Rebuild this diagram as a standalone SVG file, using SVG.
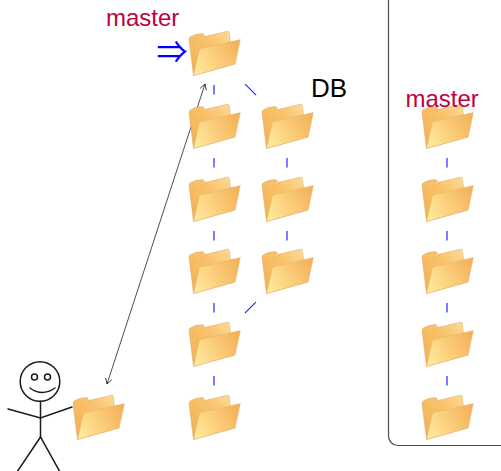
<svg xmlns="http://www.w3.org/2000/svg" xmlns:xlink="http://www.w3.org/1999/xlink" width="501" height="471" viewBox="0 0 501 471">
  <style>
    .branch { font-family: "Liberation Sans", Arial, sans-serif; font-size: 24px; fill: #bf0040; }
    .label { font-family: "Liberation Sans", Arial, sans-serif; font-size: 26px; fill: #000; }
    .head { font-family: "Noto Sans CJK JP", "DejaVu Sans", sans-serif; font-size: 31px; fill: #0000ff; }
    .link { stroke: #1a2cff; stroke-width: 1.2; fill: none; }
    .v { stroke-dasharray: 0 32 9.5 100; }
    .d { stroke-dasharray: 0 44 15.5 100; }
    .figure { stroke: #1a1a1a; stroke-width: 1.5; fill: none; stroke-linecap: round; }
  </style>
  <defs>
    <linearGradient id="backFill" x1="0" y1="1" x2="1" y2="0">
      <stop offset="0" stop-color="#f3ae4f"/>
      <stop offset="0.6" stop-color="#f8c26c"/>
      <stop offset="1" stop-color="#fde0a0"/>
    </linearGradient>
    <linearGradient id="frontFill" x1="0" y1="0.7" x2="1" y2="0.3">
      <stop offset="0" stop-color="#fee89c"/>
      <stop offset="0.45" stop-color="#fbcf7c"/>
      <stop offset="1" stop-color="#f5b25a"/>
    </linearGradient>
    <symbol id="folder" viewBox="0 0 53 45" overflow="visible">
      <path d="M1,8.5 Q1,6.3 3,5.6 L7.5,3.5 L14.2,2.6 Q15.6,2.5 16,3.9 L16.6,5.6 L39.2,0.3 Q41.2,0 41.4,2 L42.5,12 L47,33 L5.5,44.5 Z" fill="url(#backFill)" stroke="#d9a766" stroke-width="0.5"/>
      <path d="M11.5,18 L52.3,8.6 L47.2,32.8 L5.5,44.6 Z" fill="url(#frontFill)" stroke="#e2b46e" stroke-width="0.5"/>
    </symbol>
    <marker id="tip" viewBox="-6 -4 7 8" markerWidth="7" markerHeight="8" refX="0" refY="0" orient="auto-start-reverse" markerUnits="userSpaceOnUse">
      <path d="M-5.5,-3.2 L0,0 L-5.5,3.2" fill="none" stroke="#222" stroke-width="0.8"/>
    </marker>
  </defs>

  <!-- remote repository frame -->
  <rect id="remote" x="388.5" y="-20" width="140" height="465.5" rx="9.5" fill="none" stroke="#4d4d4d" stroke-width="1.2"/>

  <!-- connectors -->
  <g id="connectors">
    <line class="link v" x1="214" y1="53" x2="214" y2="126"/>
    <line class="link v" x1="214" y1="126" x2="214" y2="199"/>
    <line class="link v" x1="214" y1="199" x2="214" y2="271"/>
    <line class="link v" x1="214" y1="271" x2="214" y2="344"/>
    <line class="link v" x1="214" y1="344" x2="214" y2="417"/>
    <line class="link d" x1="214" y1="53" x2="287" y2="126"/>
    <line class="link v" x1="287" y1="126" x2="287" y2="199"/>
    <line class="link v" x1="287" y1="199" x2="287" y2="271"/>
    <line class="link d" x1="287" y1="271" x2="214" y2="344"/>
    <line class="link v" x1="447" y1="126" x2="447" y2="199"/>
    <line class="link v" x1="447" y1="199" x2="447" y2="271"/>
    <line class="link v" x1="447" y1="271" x2="447" y2="344"/>
    <line class="link v" x1="447" y1="344" x2="447" y2="417"/>
    <line id="sync" x1="107" y1="384" x2="205" y2="84" stroke="#222" stroke-width="0.8" marker-start="url(#tip)" marker-end="url(#tip)"/>
  </g>

  <!-- local history, main line -->
  <g id="c1"><use xlink:href="#folder" x="188" y="31" width="53" height="45"/></g>
  <g id="c2"><use xlink:href="#folder" x="188" y="104" width="53" height="45"/></g>
  <g id="c3"><use xlink:href="#folder" x="188" y="177" width="53" height="45"/></g>
  <g id="c4"><use xlink:href="#folder" x="188" y="249" width="53" height="45"/></g>
  <g id="c5"><use xlink:href="#folder" x="188" y="322" width="53" height="45"/></g>
  <g id="c6"><use xlink:href="#folder" x="188" y="395" width="53" height="45"/></g>

  <!-- DB branch -->
  <g id="db1"><use xlink:href="#folder" x="261" y="104" width="53" height="45"/></g>
  <g id="db2"><use xlink:href="#folder" x="261" y="177" width="53" height="45"/></g>
  <g id="db3"><use xlink:href="#folder" x="261" y="249" width="53" height="45"/></g>

  <!-- remote history -->
  <g id="r1"><use xlink:href="#folder" x="421" y="104" width="53" height="45"/></g>
  <g id="r2"><use xlink:href="#folder" x="421" y="177" width="53" height="45"/></g>
  <g id="r3"><use xlink:href="#folder" x="421" y="249" width="53" height="45"/></g>
  <g id="r4"><use xlink:href="#folder" x="421" y="322" width="53" height="45"/></g>
  <g id="r5"><use xlink:href="#folder" x="421" y="395" width="53" height="45"/></g>

  <!-- working copy -->
  <g id="workdir"><use xlink:href="#folder" x="72" y="395" width="53" height="45"/></g>

  <!-- labels -->
  <g id="labels">
    <text class="branch" x="106" y="26">master</text>
    <text class="head" x="156.5" y="63">⇒</text>
    <text class="label" x="311" y="97">DB</text>
    <text class="branch" x="405.5" y="107">master</text>
  </g>

  <!-- user -->
  <g id="user" class="figure">
    <circle cx="40" cy="381.5" r="19.8"/>
    <circle cx="34.5" cy="377" r="3"/>
    <circle cx="47.5" cy="377" r="3"/>
    <path d="M30,388 Q42,397 55,388"/>
    <line x1="40.5" y1="401.5" x2="40.5" y2="437"/>
    <polyline points="8,409 40.5,418 72,407"/>
    <polyline points="17,472 40.5,437 60,472"/>
  </g>
</svg>
